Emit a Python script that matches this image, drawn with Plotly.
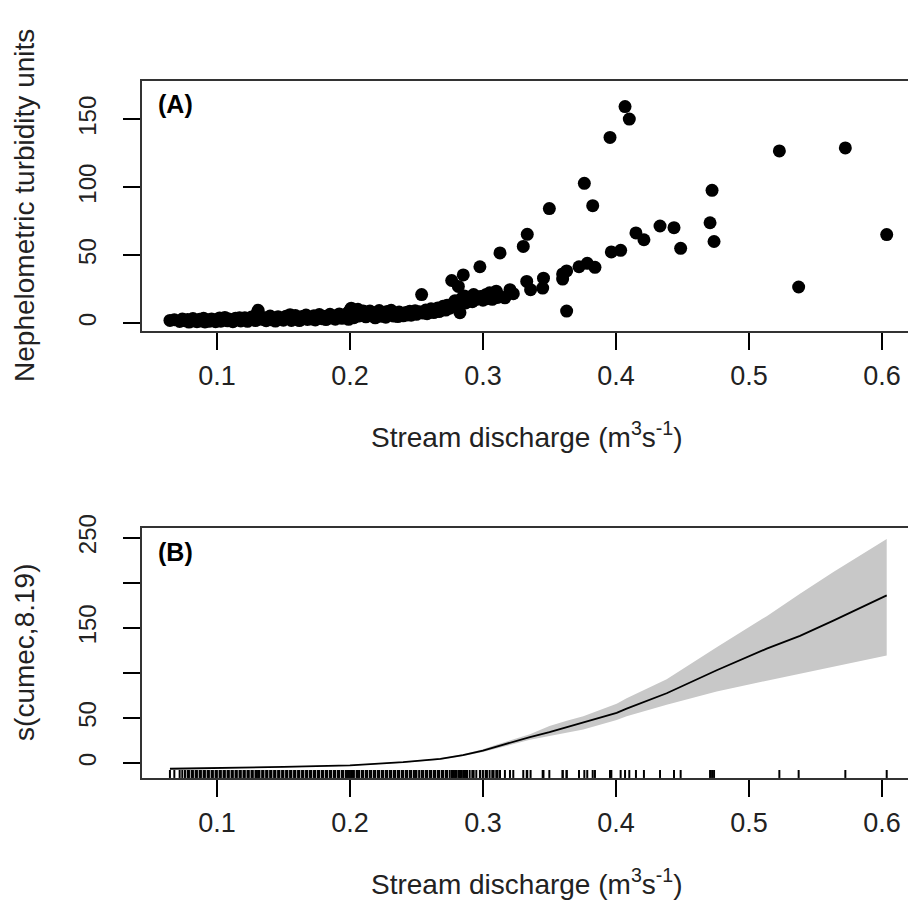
import plotly.graph_objects as go

# ---------------- Data ----------------
# Panel A: stream discharge (m3 s-1) vs nephelometric turbidity units
discharge = [
    0.0647, 0.068, 0.072, 0.074, 0.076, 0.078, 0.079, 0.081, 0.082, 0.084,
    0.085, 0.087, 0.088, 0.090, 0.091, 0.093, 0.094, 0.096, 0.097, 0.099,
    0.100, 0.102, 0.103, 0.105, 0.106, 0.108, 0.109, 0.111, 0.112, 0.114,
    0.115, 0.117, 0.118, 0.120, 0.121, 0.123, 0.124, 0.126, 0.127, 0.129,
    0.130, 0.131, 0.132, 0.134, 0.135, 0.137, 0.138, 0.140, 0.141, 0.143,
    0.144, 0.146, 0.147, 0.149,
    0.150, 0.152, 0.153, 0.155, 0.156, 0.158, 0.159, 0.161, 0.162, 0.164,
    0.165, 0.167, 0.168, 0.170, 0.171, 0.173, 0.174, 0.176, 0.177, 0.179,
    0.180, 0.182, 0.183, 0.185, 0.186, 0.188, 0.189, 0.191, 0.192, 0.194,
    0.195, 0.197, 0.198, 0.199,
    0.200, 0.201, 0.202, 0.203, 0.205, 0.206, 0.207, 0.209, 0.210, 0.212,
    0.213, 0.215, 0.216, 0.218, 0.219, 0.221, 0.222, 0.224, 0.225, 0.227,
    0.228, 0.230, 0.231, 0.233, 0.234, 0.236, 0.237, 0.239, 0.240, 0.242,
    0.243, 0.245, 0.246, 0.248, 0.249,
    0.250, 0.252, 0.2539, 0.255, 0.257, 0.258, 0.260, 0.261, 0.263, 0.264,
    0.266, 0.267, 0.269, 0.270, 0.272, 0.273, 0.275, 0.2765, 0.277, 0.278,
    0.279, 0.280, 0.2815, 0.2827, 0.283, 0.284, 0.2852, 0.286, 0.287,
    0.288, 0.290, 0.292, 0.293, 0.295, 0.2977, 0.298, 0.300, 0.302, 0.303,
    0.305, 0.307, 0.308, 0.310, 0.311,
    0.3128, 0.3128, 0.3165, 0.3203, 0.3228, 0.3303, 0.3333, 0.3329, 0.3358,
    0.3449, 0.3455, 0.3499, 0.3599, 0.3629, 0.3599, 0.3629, 0.3722, 0.3762,
    0.3784, 0.3825, 0.3842, 0.3955, 0.3965, 0.4035, 0.4068, 0.4100, 0.4150,
    0.4210, 0.4331, 0.4436, 0.4486, 0.4707, 0.4722, 0.4737, 0.5228, 0.5373,
    0.5724, 0.6035,
]
turbidity = [
    2.0, 2.5, 1.2, 3.0, 1.8, 2.6, 0.8, 1.5, 3.4, 2.2,
    1.0, 2.8, 1.6, 3.6, 0.9, 2.4, 1.3, 3.1, 2.0, 1.1,
    2.7, 3.8, 1.4, 2.3, 4.2, 1.7, 3.0, 2.1, 1.0, 3.5,
    2.5, 4.0, 1.6, 2.9, 3.9, 1.3, 2.6, 4.5, 3.2, 1.9,
    6.8, 9.5, 5.0, 2.8, 4.1, 1.8, 3.3, 5.2, 2.4, 3.7,
    1.5, 4.6, 2.9, 3.8,
    2.2, 5.1, 3.4, 6.2, 2.0, 4.3, 5.6, 3.0, 1.9, 4.8,
    3.6, 6.0, 2.7, 4.4, 3.1, 5.4, 2.3, 4.0, 6.3, 3.3,
    5.0, 2.6, 4.7, 6.5, 3.8, 5.3, 2.9, 4.5, 6.8, 3.5,
    5.7, 4.1, 7.2, 2.8,
    9.5, 11.0, 6.2, 4.0, 8.4, 10.2, 5.3, 7.1, 9.0, 4.6,
    6.8, 8.9, 5.5, 7.6, 3.9, 6.4, 9.2, 5.0, 7.8, 4.4,
    8.6, 6.1, 9.4, 5.2, 7.3, 4.8, 8.1, 6.7, 5.4, 7.9,
    6.0, 8.8, 5.8, 7.2, 9.1,
    6.5, 8.3, 21.0, 7.4, 9.6, 6.9, 8.7, 10.5, 7.8, 9.9,
    11.2, 8.5, 10.8, 12.4, 9.6, 13.1, 11.0, 31.4, 14.2, 12.0,
    16.5, 13.6, 27.0, 7.7, 15.0, 18.2, 35.5, 20.0, 14.8,
    16.3, 19.2, 15.8, 21.0, 17.4, 41.5, 19.6, 16.9, 20.8, 18.0,
    22.3, 17.5, 20.4, 23.5, 18.9,
    51.7, 19.8, 18.6, 24.6, 21.7, 56.5, 65.4, 30.7, 24.6,
    25.8, 33.1, 84.3, 36.2, 38.4, 32.4, 8.9, 41.5, 102.9,
    44.0, 86.5, 41.1, 136.7, 52.4, 53.6, 159.4, 150.2, 66.4,
    61.4, 71.5, 70.3, 55.1, 73.9, 97.8, 60.1, 126.8, 26.6,
    129.0, 65.2,
]

# Panel B: fitted smooth s(cumec, 8.19) with confidence band
smooth_x = [0.0647, 0.10, 0.15, 0.20, 0.24, 0.268, 0.285, 0.30, 0.31, 0.3353,
            0.35, 0.363, 0.3754, 0.4005, 0.408, 0.4381, 0.4757, 0.5133,
            0.5383, 0.5634, 0.6035]
smooth_fit = [-6.2, -5.5, -4.2, -2.5, 1.1, 4.7, 9.0, 14.0, 18.5, 29.0,
              34.5, 40.0, 45.0, 55.7, 60.5, 77.5, 103.0, 127.0,
              141.2, 158.0, 186.0]
smooth_upper = [-5.7, -5.0, -3.7, -2.0, 1.7, 5.5, 10.0, 15.5, 20.5, 32.0,
                41.2, 47.0, 52.1, 66.0, 72.0, 93.0, 128.5, 163.0,
                188.0, 212.0, 248.6]
smooth_lower = [-6.7, -6.0, -4.7, -3.0, 0.5, 3.9, 8.0, 12.5, 16.5, 26.0,
                30.2, 34.0, 37.4, 48.0, 52.1, 64.7, 79.4, 91.5,
                99.0, 106.7, 119.3]

yticks_a = [0, 50, 100, 150]
yticks_b = [0, 50, 100, 150, 200, 250]
yticklabels_b = ["0", "50", "", "150", "", "250"]
xticks = [0.1, 0.2, 0.3, 0.4, 0.5, 0.6]
xticklabels = ["0.1", "0.2", "0.3", "0.4", "0.5", "0.6"]
rug_bottom, rug_top = -16.4, -7.6

FONT = "Liberation Sans, Arial, sans-serif"
XTICKFONT = dict(family=FONT, size=27, color="#222")
YTICKFONT = dict(family=FONT, size=24, color="#222")
TITLEFONT = dict(family=FONT, size=28, color="#222")

fig = go.Figure()

# Panel A scatter
fig.add_trace(go.Scatter(
    x=discharge, y=turbidity, mode="markers",
    marker=dict(color="black", size=13, line=dict(width=0)),
    xaxis="x", yaxis="y", showlegend=False, hoverinfo="skip"))

# Panel B confidence band
fig.add_trace(go.Scatter(
    x=smooth_x, y=smooth_upper, mode="lines", line=dict(width=0, color="#c8c8c8"),
    xaxis="x2", yaxis="y2", showlegend=False, hoverinfo="skip"))
fig.add_trace(go.Scatter(
    x=smooth_x, y=smooth_lower, mode="lines", line=dict(width=0, color="#c8c8c8"),
    fill="tonexty", fillcolor="#c8c8c8",
    xaxis="x2", yaxis="y2", showlegend=False, hoverinfo="skip"))
# Panel B fitted line
fig.add_trace(go.Scatter(
    x=smooth_x, y=smooth_fit, mode="lines", line=dict(width=1.8, color="black"),
    xaxis="x2", yaxis="y2", showlegend=False, hoverinfo="skip"))

# Rug
rx, ry = [], []
for v in discharge:
    rx += [v, v, None]
    ry += [rug_bottom, rug_top, None]
fig.add_trace(go.Scatter(
    x=rx, y=ry, mode="lines", line=dict(width=2, color="black"),
    xaxis="x2", yaxis="y2", showlegend=False, hoverinfo="skip"))

xdom = [142 / 908, 1.0]
ydom_a = [(902 - 322) / 902, (902 - 68) / 902]
ydom_b = [(902 - 776) / 902, (902 - 522) / 902]
xrange = [0.0437, 0.6195]

common_x = dict(
    domain=xdom, range=xrange, tickvals=xticks, ticktext=xticklabels,
    ticks="outside", ticklen=17, tickwidth=1.5, tickcolor="black",
    showline=True, linecolor="#333", linewidth=2, mirror=True,
    showgrid=False, zeroline=False, tickfont=XTICKFONT, ticklabelstandoff=3)
common_y = dict(
    ticks="outside", ticklen=17, tickwidth=1.5, tickcolor="black",
    showline=True, linecolor="#333", linewidth=2, mirror=False,
    showgrid=False, zeroline=False, tickfont=YTICKFONT, tickangle=-90,
    ticklabelstandoff=17)

fig.update_layout(
    width=908, height=902,
    margin=dict(l=0, r=0, t=0, b=0),
    paper_bgcolor="white", plot_bgcolor="white",
    xaxis=dict(anchor="y", **common_x),
    yaxis=dict(anchor="x", domain=ydom_a, range=[-5.8, 178.3],
               tickvals=yticks_a, ticktext=[str(v) for v in yticks_a], **common_y),
    xaxis2=dict(anchor="y2", **common_x),
    yaxis2=dict(anchor="x2", domain=ydom_b, range=[-16.4, 260.9],
                tickvals=yticks_b, ticktext=yticklabels_b, **common_y),
    annotations=[
        dict(text="<b>(A)</b>", x=0.0545, y=161, xref="x", yref="y",
             showarrow=False, font=dict(family=FONT, size=25, color="black"),
             xanchor="left", yanchor="middle"),
        dict(text="<b>(B)</b>", x=0.0545, y=234.7, xref="x2", yref="y2",
             showarrow=False, font=dict(family=FONT, size=25, color="black"),
             xanchor="left", yanchor="middle"),
        dict(text="Stream discharge (m<sup>3</sup>s<sup>-1</sup>)",
             x=527 / 908, y=(902 - 428) / 902, xref="paper", yref="paper",
             showarrow=False, font=TITLEFONT, xanchor="center", yanchor="middle"),
        dict(text="Stream discharge (m<sup>3</sup>s<sup>-1</sup>)",
             x=527 / 908, y=(902 - 882) / 902, xref="paper", yref="paper",
             showarrow=False, font=TITLEFONT, xanchor="center", yanchor="middle"),
        dict(text="Nephelometric turbidity units",
             x=25 / 908, y=(902 - 195) / 902, xref="paper", yref="paper",
             showarrow=False, font=TITLEFONT, textangle=-90,
             xanchor="center", yanchor="middle"),
        dict(text="s(cumec,8.19)",
             x=25 / 908, y=(902 - 649) / 902, xref="paper", yref="paper",
             showarrow=False, font=TITLEFONT, textangle=-90,
             xanchor="center", yanchor="middle"),
    ],
)

fig.write_html("out.html")
